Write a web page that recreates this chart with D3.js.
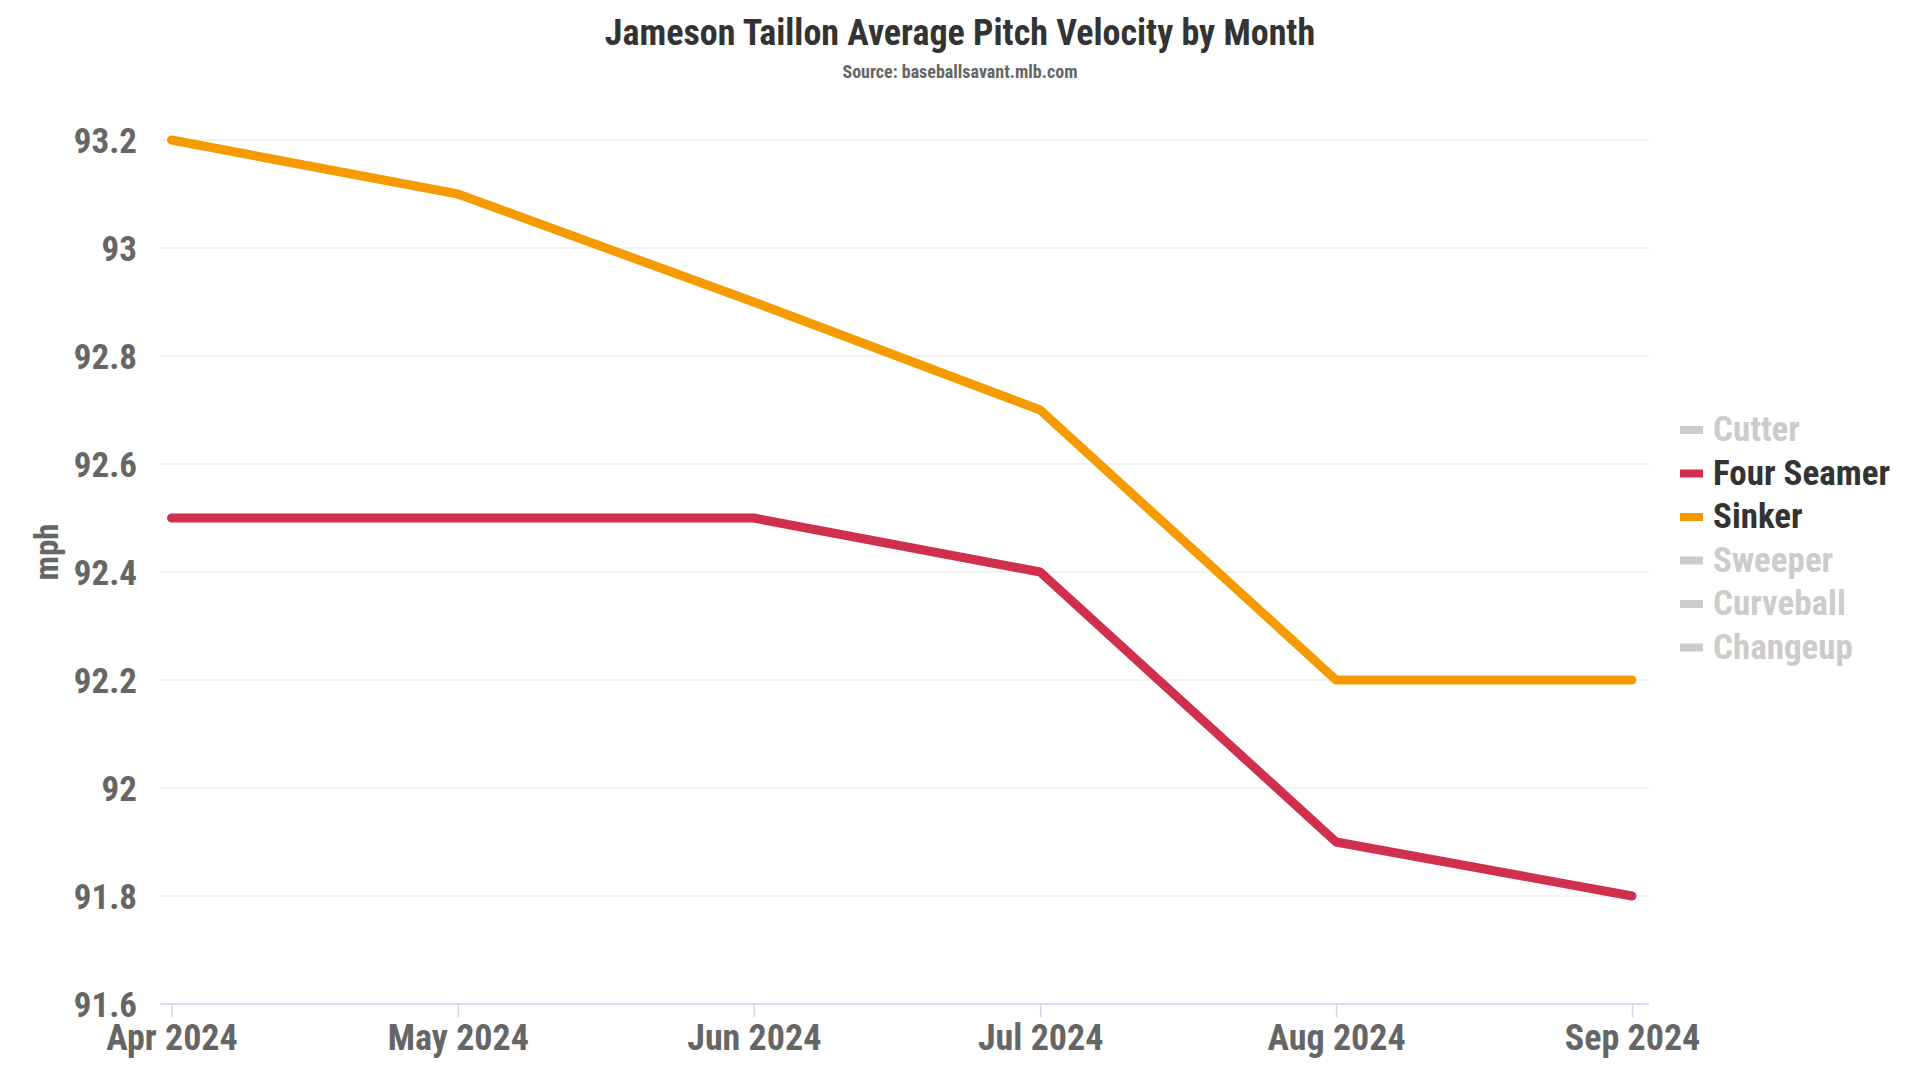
<!DOCTYPE html>
<html>
<head>
<meta charset="utf-8">
<script src="https://cdn.jsdelivr.net/npm/d3@7"></script>
<style>
  html, body { margin: 0; padding: 0; background: #ffffff; }
  svg text { font-family: "Roboto Condensed", "Roboto", sans-serif; font-stretch: 75%; font-weight: 700; }
</style>
</head>
<body>
<svg id="chart" width="1920" height="1080"></svg>
<script>
const months = ["2024-04-01", "2024-05-01", "2024-06-01", "2024-07-01", "2024-08-01", "2024-09-01"];
const fourSeamer = [92.5, 92.5, 92.5, 92.4, 91.9, 91.8];
const sinker = [93.2, 93.1, 92.9, 92.7, 92.2, 92.2];
const yTicks = [91.6, 91.8, 92, 92.2, 92.4, 92.6, 92.8, 93, 93.2];
const legendItems = ["Cutter", "Four Seamer", "Sinker", "Sweeper", "Curveball", "Changeup"];
const visibleItems = ["Four Seamer", "Sinker"];
const seriesColors = {"Four Seamer": "#d0304e", "Sinker": "#f59b00"};
const titleText = "Jameson Taillon Average Pitch Velocity by Month";
const subtitleText = "Source: baseballsavant.mlb.com";
const yTitle = "mph";

const parse = d3.timeParse("%Y-%m-%d");
const dates = months.map(parse);
const series = [
  {name: "Four Seamer", values: fourSeamer},
  {name: "Sinker", values: sinker}
];

const svg = d3.select("#chart");
const plotLeft = 160, plotRight = 1649, plotTop = 140, plotBottom = 1004;
const padL = 11.5, padR = 17;

const x = d3.scaleTime()
  .domain(d3.extent(dates))
  .range([plotLeft + padL, plotRight - padR]);
const y = d3.scaleLinear()
  .domain([91.6, 93.2])
  .range([plotBottom, plotTop]);

// gridlines
svg.append("g").selectAll("line").data(yTicks).join("line")
  .attr("x1", plotLeft).attr("x2", plotRight)
  .attr("y1", d => y(d)).attr("y2", d => y(d))
  .attr("stroke", "#e6e6e6").attr("stroke-width", 1);

// x axis line
svg.append("line")
  .attr("x1", plotLeft).attr("x2", plotRight)
  .attr("y1", plotBottom).attr("y2", plotBottom)
  .attr("stroke", "#ccd6eb").attr("stroke-width", 1.5);

// x ticks
const xAxis = d3.axisBottom(x).tickValues(dates).tickSize(13).tickPadding(10)
  .tickFormat(d3.timeFormat("%b %Y"));
const gx = svg.append("g").attr("transform", `translate(0,${plotBottom})`).call(xAxis);
gx.select(".domain").remove();
gx.selectAll(".tick line").attr("stroke", "#ccd6eb").attr("stroke-width", 1.5);
gx.selectAll(".tick text")
  .attr("fill", "#666666").attr("font-size", 36).attr("dy", null).attr("y", 46);

// y axis labels
const yAxis = d3.axisLeft(y).tickValues(yTicks).tickSize(0).tickPadding(23)
  .tickFormat(d => d3.format("")(+d.toFixed(1)));
const gy = svg.append("g").attr("transform", `translate(${plotLeft},0)`).call(yAxis);
gy.select(".domain").remove();
gy.selectAll(".tick text").attr("fill", "#666666").attr("font-size", 35).attr("dy", "0.35em");

// y title
svg.append("text")
  .attr("transform", `translate(58,552) rotate(-90)`)
  .attr("text-anchor", "middle")
  .attr("fill", "#666666").attr("font-size", 33)
  .text(yTitle);

// lines
const line = d3.line().x((d, i) => x(dates[i])).y(d => y(d));
svg.append("g").selectAll("path").data(series).join("path")
  .attr("d", d => line(d.values))
  .attr("fill", "none")
  .attr("stroke", d => seriesColors[d.name])
  .attr("stroke-width", 9)
  .attr("stroke-linecap", "round")
  .attr("stroke-linejoin", "round");

// title
svg.append("text").attr("x", 960).attr("y", 45).attr("text-anchor", "middle")
  .attr("fill", "#333333").attr("font-size", 36).text(titleText);
svg.append("text").attr("x", 960).attr("y", 78).attr("text-anchor", "middle")
  .attr("fill", "#666666").attr("font-size", 18).text(subtitleText);

// legend
const legend = svg.append("g").attr("transform", "translate(1680,441)");
const li = legend.selectAll("g").data(legendItems).join("g")
  .attr("transform", (d, i) => `translate(0,${i * 43.5})`);
li.append("rect").attr("x", 0).attr("y", -15).attr("width", 23).attr("height", 8)
  .attr("fill", d => visibleItems.includes(d) ? seriesColors[d] : "#cccccc");
li.append("text").attr("x", 33).attr("y", 0)
  .attr("font-size", 35)
  .attr("fill", d => visibleItems.includes(d) ? "#333333" : "#cccccc")
  .text(d => d);
</script>
</body>
</html>
